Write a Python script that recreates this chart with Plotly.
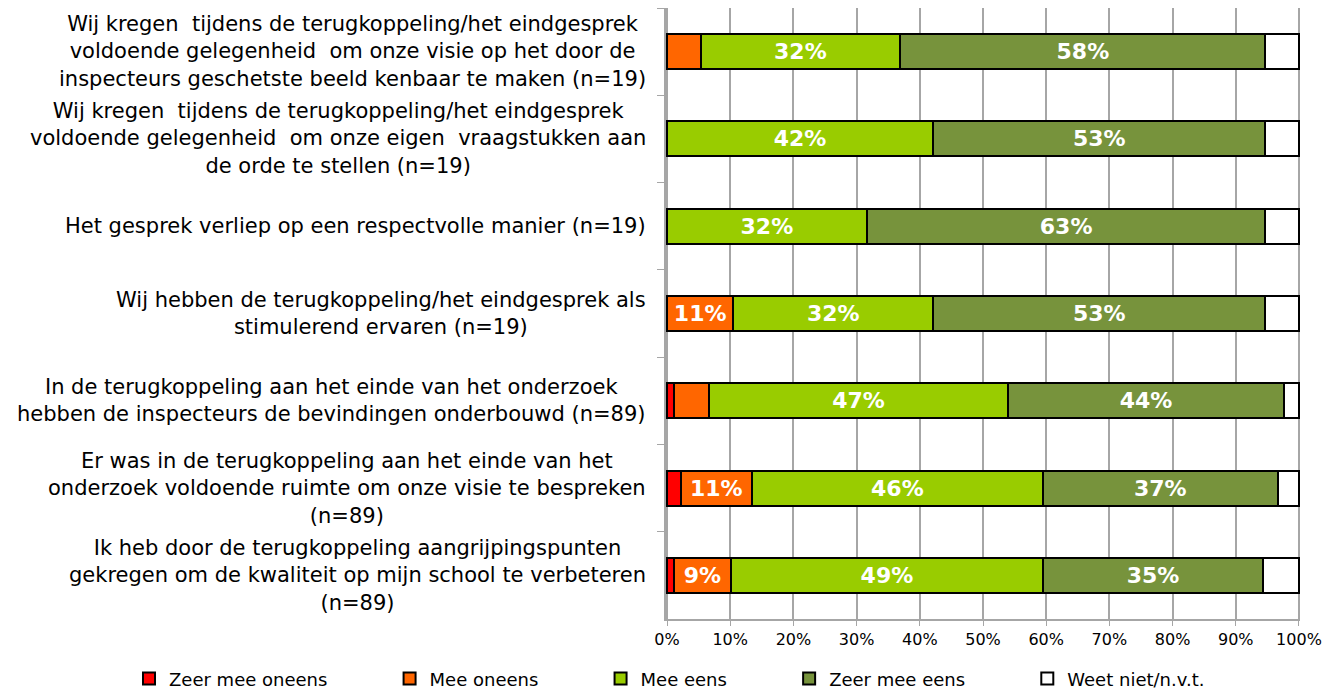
import plotly.graph_objects as go

# statements (top to bottom)
statements = [
    "Wij kregen  tijdens de terugkoppeling/het eindgesprek<br>voldoende gelegenheid  om onze visie op het door de<br>inspecteurs geschetste beeld kenbaar te maken (n=19)",
    "Wij kregen  tijdens de terugkoppeling/het eindgesprek<br>voldoende gelegenheid  om onze eigen  vraagstukken aan<br>de orde te stellen (n=19)",
    "Het gesprek verliep op een respectvolle manier (n=19)",
    "Wij hebben de terugkoppeling/het eindgesprek als<br>stimulerend ervaren (n=19)",
    "In de terugkoppeling aan het einde van het onderzoek<br>hebben de inspecteurs de bevindingen onderbouwd (n=89)",
    "Er was in de terugkoppeling aan het einde van het<br>onderzoek voldoende ruimte om onze visie te bespreken<br>(n=89)",
    "Ik heb door de terugkoppeling aangrijpingspunten<br>gekregen om de kwaliteit op mijn school te verbeteren<br>(n=89)",
]
keys = ["s1", "s2", "s3", "s4", "s5", "s6", "s7"]

# percentages per answer category
zeer_oneens = [0, 0, 0, 0, 1.1, 2.2, 1.1]
oneens = [5.3, 0, 0, 10.5, 5.6, 11.2, 9.0]
eens = [31.6, 42.1, 31.6, 31.6, 47.2, 46.1, 49.4]
zeer_eens = [57.8, 52.6, 63.1, 52.6, 43.8, 37.1, 34.8]
weet_niet = [5.3, 5.3, 5.3, 5.3, 2.3, 3.4, 5.7]

series = [
    ("Zeer mee oneens", zeer_oneens, "#FF0000"),
    ("Mee oneens", oneens, "#FF6600"),
    ("Mee eens", eens, "#99CC00"),
    ("Zeer mee eens", zeer_eens, "#77933C"),
    ("Weet niet/n.v.t.", weet_niet, "#FFFFFF"),
]

fig = go.Figure()
for i, (name, vals, color) in enumerate(series):
    labels = [f"{int(v + 0.5)}%" if v >= 8 else "" for v in vals]
    pad = "&nbsp;" * 10 if i < len(series) - 1 else ""  # spacing between legend entries
    fig.add_trace(go.Bar(
        y=keys, x=vals, name=name + pad, orientation="h",
        marker=dict(color=color, line=dict(color="black", width=2)),
        text=labels, textposition="inside", insidetextanchor="middle",
        textangle=0,
        textfont=dict(family="DejaVu Sans", size=22, color="white", weight="bold"),
        width=0.4,
    ))

# left-side statement labels, centred lines like the original
for k, s in zip(keys, statements):
    fig.add_annotation(
        x=0, xref="paper", y=k, yref="y", text=s, showarrow=False,
        xanchor="right", align="center", xshift=-18,
        font=dict(family="DejaVu Sans", size=21, color="#000000"),
    )

# page body adds an 8px margin, so the figure is 8px smaller
fig.update_layout(
    barmode="stack",
    width=1330, height=682,
    margin=dict(l=658, r=38, t=0, b=71, autoexpand=False),
    plot_bgcolor="white", paper_bgcolor="white",
    uniformtext=dict(mode="show", minsize=10),
    legend=dict(
        orientation="h", traceorder="normal",
        x=-0.847, xref="paper", xanchor="left",
        y=-0.098, yref="paper", yanchor="middle",
        font=dict(family="DejaVu Sans", size=18, color="#000000"),
        itemwidth=30,
    ),
    showlegend=True,
)

fig.update_xaxes(
    range=[-0.16, 100.16], tickvals=list(range(0, 101, 10)),
    ticktext=[f"{v}%" for v in range(0, 101, 10)],
    showgrid=True, gridcolor="#A6A6A6", gridwidth=1.5,
    showline=True, linecolor="#A6A6A6", linewidth=1.5,
    ticks="outside", ticklen=5, tickcolor="#A6A6A6",
    tickfont=dict(family="DejaVu Sans", size=16, color="#000000"),
    zeroline=False,
)
fig.update_yaxes(
    categoryorder="array", categoryarray=keys, autorange="reversed",
    showticklabels=False, tickson="boundaries",
    ticks="outside", ticklen=7, tickcolor="#A6A6A6",
    showline=True, linecolor="#A6A6A6", linewidth=1.5,
    showgrid=False,
)

fig.write_html("out.html")
